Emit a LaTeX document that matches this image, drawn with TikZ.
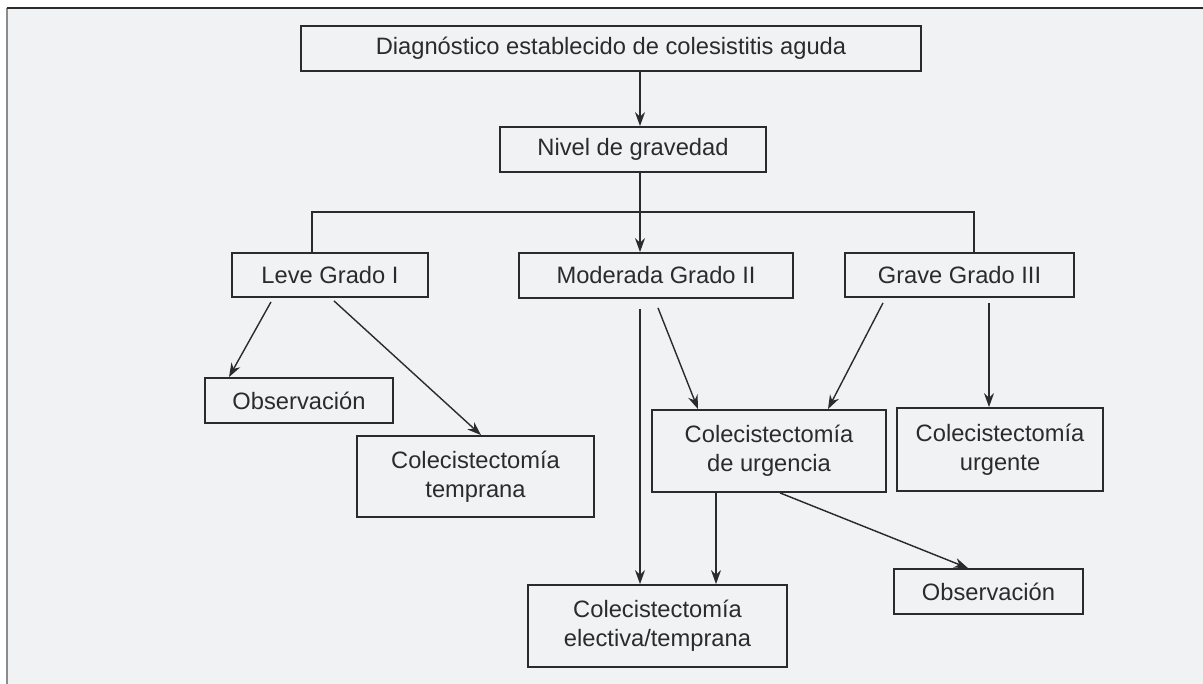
\documentclass[tikz,border=0pt]{standalone}
\usepackage{fontspec}
\setmainfont{Liberation Sans}
\usepackage{tikz}
\usetikzlibrary{arrows.meta, calc}
\definecolor{Ink}{HTML}{2B2B2B}
\definecolor{Paper}{HTML}{F1F2F4}
\definecolor{Edge}{HTML}{8C8C8C}

\begin{document}
\begin{tikzpicture}[x=0.5pt, y=-0.5pt, font=\fontsize{11.85}{14.5}\selectfont, text=Ink,
        box/.style={draw=Ink, line width=0.9pt, align=center, inner sep=0pt},
        link/.style={draw=Ink, line width=0.7pt},
        arr/.style={link, -{Stealth[length=7pt, width=5pt]}}]
            \useasboundingbox (0,0) rectangle (1203,684);
            \fill[Paper] (7,8) rectangle (1203,684);
            \draw[Edge, line width=1pt] (7,684) -- (7,8);
            \draw[Ink, line width=1pt] (6.5,8) -- (1203,8);
            \node[box, minimum width=310pt, minimum height=22.5pt] (diag) at (611,48.5) {Diagnóstico establecido de colesistitis aguda};
            \node[box, minimum width=133pt, minimum height=22.5pt] (nivel) at (633,149.5) {Nivel de gravedad};
            \node[box, minimum width=98pt, minimum height=22pt] (leve) at (330,275) {Leve Grado I};
            \node[box, minimum width=137pt, minimum height=22.5pt] (moder) at (656,275.5) {Moderada Grado II};
            \node[box, minimum width=114.5pt, minimum height=22pt] (grave) at (959.5,275) {Grave Grado III};
            \node[box, minimum width=94pt, minimum height=22.5pt] (obsA) at (299,400.5) {Observación};
            \node[box, minimum width=118.5pt, minimum height=40.5pt] (tempr) at (475.5,476.5) {Colecistectomía\\temprana};
            \node[box, minimum width=117pt, minimum height=41pt] (urgen) at (769,451) {Colecistectomía\\de urgencia};
            \node[box, minimum width=103pt, minimum height=41.5pt] (urgte) at (1000,449.5) {Colecistectomía\\urgente};
            \node[box, minimum width=129.5pt, minimum height=41pt] (elect) at (657.5,626) {Colecistectomía\\electiva/temprana};
            \node[box, minimum width=94.5pt, minimum height=22.5pt] (obsB) at (988.5,591.5) {Observación};
            \coordinate (trunk) at (640,0);
            \coordinate (drop) at (716,0);
            \draw[arr] (diag.south -| trunk) -- (nivel.north -| trunk);
            \draw[arr] (nivel.south -| trunk) -- (moder.north -| trunk);
            \draw[link] ($(leve.north)+(-18,0)$) |- ($(nivel.south)+(0,39)$) -| ($(grave.north)+(14.5,0)$);
            \draw[arr] ($(leve.south)+(-59,4)$) -- ($(obsA.north)+(-70,0)$);
            \draw[arr] ($(leve.south)+(4,3)$) -- ($(tempr.north)+(5.5,0)$);
            \draw[arr] ($(moder.south -| trunk)+(0,10)$) -- (elect.north -| trunk);
            \draw[arr] ($(moder.south)+(2,9)$) -- ($(urgen.north)+(-71,0)$);
            \draw[arr] ($(grave.south)+(-76.5,5)$) -- ($(urgen.north)+(59,0)$);
            \draw[arr] ($(grave.south)+(29.5,5)$) -- ($(urgte.north)+(-11,0)$);
            \draw[arr] (urgen.south -| drop) -- (elect.north -| drop);
            \draw[arr] ($(urgen.south)+(11,0)$) -- ($(obsB.north)+(-20.5,0)$);
        \end{tikzpicture}
\end{document}
